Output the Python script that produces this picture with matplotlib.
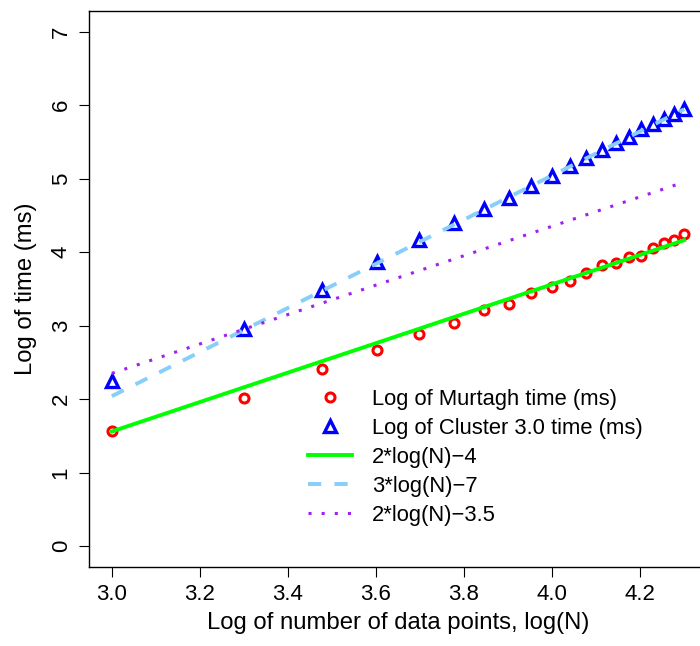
import numpy as np
import matplotlib
matplotlib.use("Agg")
import matplotlib.pyplot as plt

# -------------------------------------------------------------------------
# Data: log10 of number of data points and log10 of run times (ms)
# -------------------------------------------------------------------------
log_n = [3.000, 3.301, 3.477, 3.602, 3.699, 3.778, 3.845, 3.903, 3.954, 4.000,
         4.041, 4.079, 4.114, 4.146, 4.176, 4.204, 4.230, 4.255, 4.279, 4.301]
murtagh = [1.56, 2.02, 2.41, 2.67, 2.88, 3.04, 3.21, 3.30, 3.45, 3.52,
           3.60, 3.71, 3.82, 3.85, 3.94, 3.95, 4.05, 4.12, 4.16, 4.24]
cluster = [2.24, 2.96, 3.48, 3.87, 4.17, 4.39, 4.58, 4.74, 4.90, 5.04,
           5.17, 5.28, 5.39, 5.48, 5.57, 5.67, 5.74, 5.81, 5.88, 5.94]

# reference lines as drawn: slope, intercept, label
ref_lines = [(2.0, -4.44, "2*log(N)\u22124"),
             (3.0, -6.96, "3*log(N)\u22127"),
             (2.0, -3.65, "2*log(N)\u22123.5")]

plt.rcParams['font.family'] = ['Liberation Sans', 'DejaVu Sans']
FS_TICK = 16
FS_LAB = 17.2
FS_LEG = 15.8

fig = plt.figure(figsize=(7.0, 6.46), dpi=100)
ax = fig.add_axes([89/700, 1 - 566.7/646, (707 - 89)/700, (566.7 - 11)/646])

x = np.array(log_n)
ax.plot(x, murtagh, 'o', ls='none', mfc='none', mec='#ff0000', ms=6.5, mew=2.2,
        label="Log of Murtagh time (ms)")
ax.plot(x, cluster, '^', ls='none', mfc='none', mec='#0000ff', ms=8.5, mew=2.4,
        label="Log of Cluster 3.0 time (ms)")

xx = np.array([log_n[0], log_n[-1]])
s, b, lab = ref_lines[0]
ax.plot(xx, s*xx + b, color='#00ff00', lw=2.8, label=lab)
s, b, lab = ref_lines[1]
ax.plot(xx, s*xx + b, color='#87cefa', lw=2.8, dashes=(3.4, 3.4), label=lab)
s, b, lab = ref_lines[2]
ax.plot(xx, s*xx + b, color='#a020f0', lw=2.2, dashes=(1, 3.3), label=lab)

ax.set_xlim(2.948, 4.353)
ax.set_ylim(-0.28, 7.28)
ax.set_xticks([3.0, 3.2, 3.4, 3.6, 3.8, 4.0, 4.2])
ax.set_xticklabels(["3.0", "3.2", "3.4", "3.6", "3.8", "4.0", "4.2"])
ax.set_yticks(range(8))
ax.tick_params(axis='both', length=7.5, width=0.8, labelsize=FS_TICK, pad=5)
for t in ax.get_yticklabels():
    t.set_rotation(90)
    t.set_va('center')
ax.spines['right'].set_visible(False)
for sp in ['left', 'top', 'bottom']:
    ax.spines[sp].set_linewidth(1.0)

ax.set_xlabel("Log of number of data points, log(N)", fontsize=FS_LAB, labelpad=5)
ax.set_ylabel("Log of time (ms)", fontsize=FS_LAB, labelpad=10)

leg = ax.legend(loc='upper left', bbox_to_anchor=(308/700, 1 - 389/646),
                bbox_transform=fig.transFigure, frameon=False, fontsize=FS_LEG,
                numpoints=1, handlelength=2.0, handletextpad=0.9,
                labelspacing=0.36, borderpad=0, borderaxespad=0)

fig.savefig("out.png", dpi=100)
